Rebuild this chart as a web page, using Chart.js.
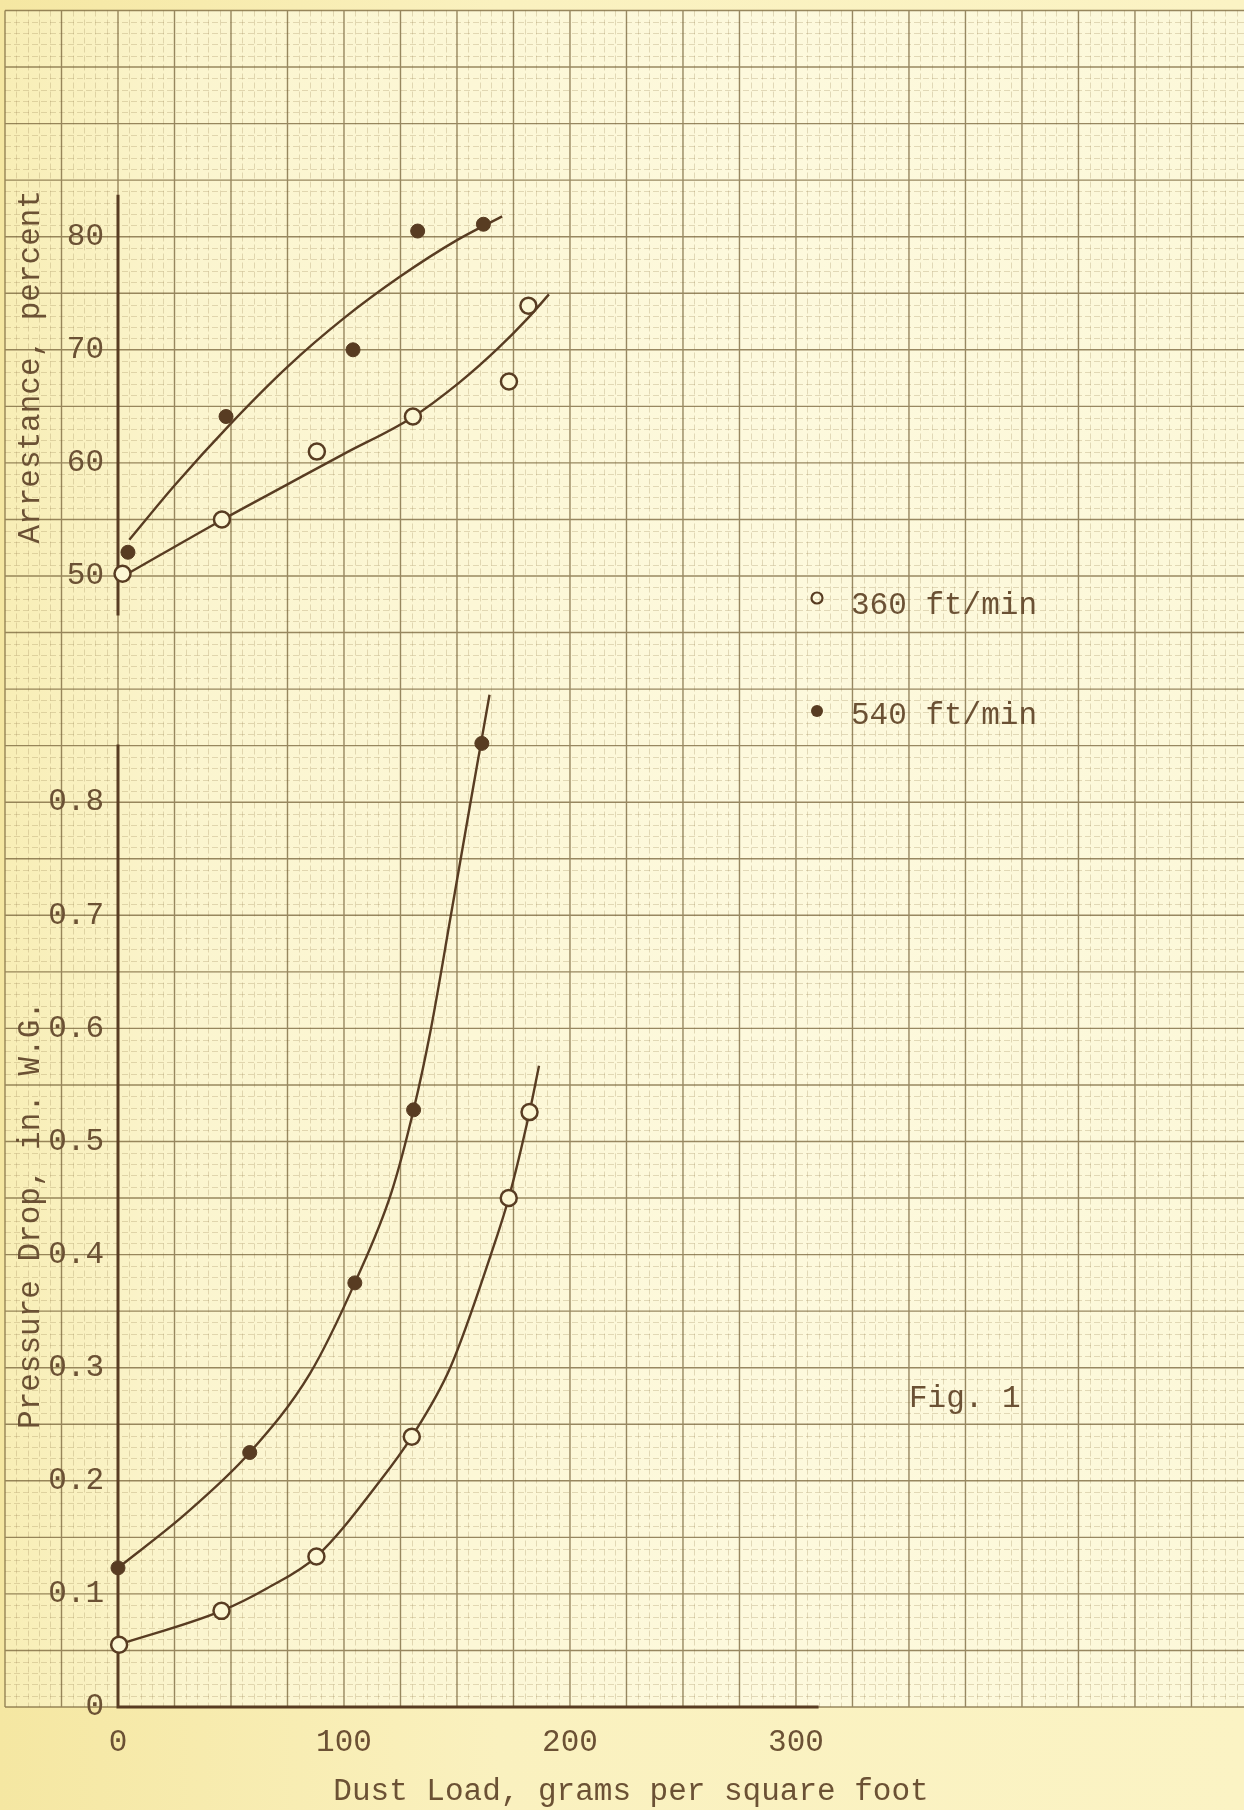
<!DOCTYPE html>
<html lang="en">
<head>
<meta charset="UTF-8">
<title>Fig. 1 - Arrestance and Pressure Drop</title>
<script src="https://cdn.jsdelivr.net/npm/chart.js"></script>
<style>
  html, body { margin: 0; padding: 0; background: #f9f0b8; overflow: hidden; }
  #wrap { position: relative; width: 1244px; height: 1810px; }
</style>
</head>
<body>
<div id="wrap"><canvas id="grafico"></canvas></div>
<script>
// points: dust load (g per sq ft) and value
const arrX360 = [2, 46, 88, 130.5, 173, 181.6];
const arr360  = [50.2, 55.0, 61.0, 64.1, 67.2, 73.9];
const arrX540 = [4.4, 47.8, 104, 132.6, 161.7];
const arr540  = [52.1, 64.1, 70.0, 80.5, 81.1];

const presX360 = [0.5, 45.8, 87.8, 130, 172.9, 182.1];
const pres360  = [0.055, 0.085, 0.133, 0.239, 0.450, 0.526];
const presX540 = [0, 58.3, 104.8, 130.8, 161];
const pres540  = [0.123, 0.225, 0.375, 0.528, 0.852];

// the hand drawn curves
const arrCurveX360 = [2.5, 46.4, 75, 100, 130, 151, 168, 181.4, 190.7];
const arrCurve360  = [50.0, 55.0, 58.1, 60.8, 64.0, 67.1, 70.1, 72.8, 74.9];
const arrCurveX540 = [5, 25, 50, 75, 100, 125, 150, 170];
const arrCurve540  = [53.2, 58.0, 63.5, 68.5, 72.8, 76.5, 79.7, 81.8];
const presCurveX360 = [0, 45.8, 66, 87.8, 116, 130, 147, 165, 172.9, 182.1, 186.3];
const presCurve360  = [0.055, 0.085, 0.105, 0.133, 0.2, 0.239, 0.3, 0.4, 0.45, 0.526, 0.567];
const presCurveX540 = [0, 30, 58.3, 85, 104.8, 121, 130.8, 138.5, 147.3, 156, 160.6, 164.4];
const presCurve540  = [0.123, 0.171, 0.225, 0.295, 0.375, 0.455, 0.528, 0.6, 0.7, 0.8, 0.852, 0.895];

const xTicks = [0, 100, 200, 300];
const arrTicks = [50, 60, 70, 80];
const presTicks = [0, 0.1, 0.2, 0.3, 0.4, 0.5, 0.6, 0.7, 0.8];
const series = ["360 ft/min", "540 ft/min"];

const tinta = "#583c22";
const texto = "#6b5134";
const fuente = "'Liberation Mono', 'DejaVu Sans Mono', monospace";

Chart.defaults.font.family = fuente;
Chart.defaults.font.size = 31;
Chart.defaults.color = texto;

function pares(xs, ys) {
    return xs.map((x, i) => ({ x: x, y: ys[i] }));
}

// y axes: fixed width, no extra room for labels at the ends
function ajustarY(s) {
    s.width = 118;
    s.paddingTop = 0;
    s.paddingBottom = 0;
}

// graph paper, axis lines, legend and caption
const papel = {
    id: "papel",
    beforeDraw(chart) {
        const { ctx, width, height } = chart;
        const x = chart.scales.x, yP = chart.scales.yP;
        ctx.save();
        let g = ctx.createLinearGradient(0, 0, width, 0);
        g.addColorStop(0, "#f5e7a2");
        g.addColorStop(0.4, "#faf1bf");
        g.addColorStop(1, "#fbf3c4");
        ctx.fillStyle = g;
        ctx.fillRect(0, 0, width, height);

        const left = x.getPixelForValue(-50);
        const top = yP.getPixelForValue(1.5);
        const bottom = yP.getPixelForValue(0);
        g = ctx.createLinearGradient(left, 0, width, 0);
        g.addColorStop(0, "#f8eeb6");
        g.addColorStop(0.15, "#fbf5cf");
        g.addColorStop(0.6, "#fdf9dd");
        g.addColorStop(1, "#fcf8d9");
        ctx.fillStyle = g;
        ctx.fillRect(left, top, width - left, bottom - top);

        // fine lines every 5 g and 0.01 in.
        ctx.lineWidth = 1;
        ctx.strokeStyle = "rgba(150,130,80,0.27)";
        ctx.setLineDash([6, 3]);
        ctx.beginPath();
        for (let v = -50; v <= 500; v += 5) {
            if (v % 25 === 0) continue;
            const px = Math.round(x.getPixelForValue(v)) + 0.5;
            ctx.moveTo(px, top);
            ctx.lineTo(px, bottom);
        }
        for (let i = 0; i <= 150; i++) {
            if (i % 5 === 0) continue;
            const py = Math.round(yP.getPixelForValue(i / 100)) + 0.5;
            ctx.moveTo(left, py);
            ctx.lineTo(width, py);
        }
        ctx.stroke();

        // heavier lines every 25 g and 0.05 in.
        ctx.setLineDash([]);
        ctx.strokeStyle = "rgba(118,98,56,0.75)";
        ctx.lineWidth = 1.4;
        ctx.beginPath();
        for (let v = -50; v <= 500; v += 25) {
            const px = x.getPixelForValue(v);
            ctx.moveTo(px, top);
            ctx.lineTo(px, bottom);
        }
        for (let i = 0; i <= 150; i += 5) {
            const py = yP.getPixelForValue(i / 100);
            ctx.moveTo(left, py);
            ctx.lineTo(width, py);
        }
        ctx.stroke();
        ctx.restore();
    },
    beforeDatasetsDraw(chart) {
        const { ctx } = chart;
        const x = chart.scales.x, yP = chart.scales.yP, yA = chart.scales.yA;
        const x0 = x.getPixelForValue(0);
        ctx.save();
        ctx.strokeStyle = tinta;
        ctx.lineWidth = 3;
        ctx.beginPath();
        ctx.moveTo(x0, yA.getPixelForValue(83.7));
        ctx.lineTo(x0, yA.getPixelForValue(46.5));
        ctx.moveTo(x0, yP.getPixelForValue(0.851));
        ctx.lineTo(x0, yP.getPixelForValue(0));
        ctx.lineTo(x.getPixelForValue(310), yP.getPixelForValue(0));
        ctx.stroke();
        ctx.restore();
    },
    afterDraw(chart) {
        const { ctx } = chart;
        ctx.save();
        ctx.font = "31px " + fuente;
        ctx.fillStyle = texto;
        ctx.textBaseline = "alphabetic";
        ctx.textAlign = "left";
        // legend
        ctx.beginPath();
        ctx.arc(817, 598, 5.5, 0, Math.PI * 2);
        ctx.strokeStyle = tinta;
        ctx.lineWidth = 2.2;
        ctx.stroke();
        ctx.fillText(series[0], 851, 614);
        ctx.beginPath();
        ctx.arc(817, 711, 6, 0, Math.PI * 2);
        ctx.fillStyle = tinta;
        ctx.fill();
        ctx.fillStyle = texto;
        ctx.fillText(series[1], 851, 724);
        ctx.fillText("Fig. 1", 909, 1407);
        ctx.restore();
    }
};

const abierto = {
    pointStyle: "circle", pointRadius: 8, pointBackgroundColor: "#fcf7d4",
    pointBorderColor: tinta, pointBorderWidth: 2.5, showLine: false, clip: false
};
const lleno = {
    pointStyle: "circle", pointRadius: 7, pointBackgroundColor: tinta,
    pointBorderColor: tinta, pointBorderWidth: 1, showLine: false, clip: false
};
const curva = {
    type: "line", borderColor: tinta, borderWidth: 2.4, pointRadius: 0,
    cubicInterpolationMode: "monotone", fill: false, clip: false
};

const chart = new Chart(document.getElementById("grafico"), {
    type: "scatter",
    data: {
        datasets: [
            { ...abierto, label: series[0], data: pares(arrX360, arr360), yAxisID: "yA" },
            { ...lleno, label: series[1], data: pares(arrX540, arr540), yAxisID: "yA" },
            { ...abierto, label: series[0], data: pares(presX360, pres360), yAxisID: "yP" },
            { ...lleno, label: series[1], data: pares(presX540, pres540), yAxisID: "yP" },
            { ...curva, label: "curve 360", data: pares(arrCurveX360, arrCurve360), yAxisID: "yA" },
            { ...curva, label: "curve 540", data: pares(arrCurveX540, arrCurve540), yAxisID: "yA" },
            { ...curva, label: "curve 360", data: pares(presCurveX360, presCurve360), yAxisID: "yP" },
            { ...curva, label: "curve 540", data: pares(presCurveX540, presCurve540), yAxisID: "yP" }
        ]
    },
    options: {
        responsive: true,
        maintainAspectRatio: false,
        animation: false,
        layout: { padding: { top: 6, right: 100, bottom: 0, left: 0 } },
        plugins: { legend: { display: false }, tooltip: { enabled: false } },
        scales: {
            x: {
                type: "linear", position: "bottom", min: 0, max: 454, bounds: "data",
                grid: { display: false, drawTicks: false }, border: { display: false },
                afterBuildTicks: s => { s.ticks = xTicks.map(v => ({ value: v })); },
                afterFit: s => { s.height = 103; },
                ticks: { padding: 17, autoSkip: false, maxRotation: 0 },
                title: { display: true, text: "Dust Load, grams per square foot", padding: 0 }
            },
            yP: {
                type: "linear", axis: "y", position: "left", stack: "izq", stackWeight: 87,
                min: 0, max: 0.87, bounds: "data",
                grid: { display: false, drawTicks: false }, border: { display: false },
                afterBuildTicks: s => { s.ticks = presTicks.map(v => ({ value: v })); },
                afterFit: ajustarY,
                ticks: { padding: 14, autoSkip: false, callback: v => v === 0 ? "0" : v.toFixed(1) },
                title: { display: true, text: "Pressure Drop, in. W.G.", padding: { top: 12, bottom: 0 } }
            },
            yA: {
                type: "linear", axis: "y", position: "left", stack: "izq", stackWeight: 63,
                min: 37, max: 100, bounds: "data",
                grid: { display: false, drawTicks: false }, border: { display: false },
                afterBuildTicks: s => { s.ticks = arrTicks.map(v => ({ value: v })); },
                afterFit: ajustarY,
                ticks: { padding: 14, autoSkip: false },
                title: { display: true, text: "Arrestance, percent", padding: { top: 12, bottom: 0 } }
            }
        }
    },
    plugins: [papel]
});
</script>
</body>
</html>
